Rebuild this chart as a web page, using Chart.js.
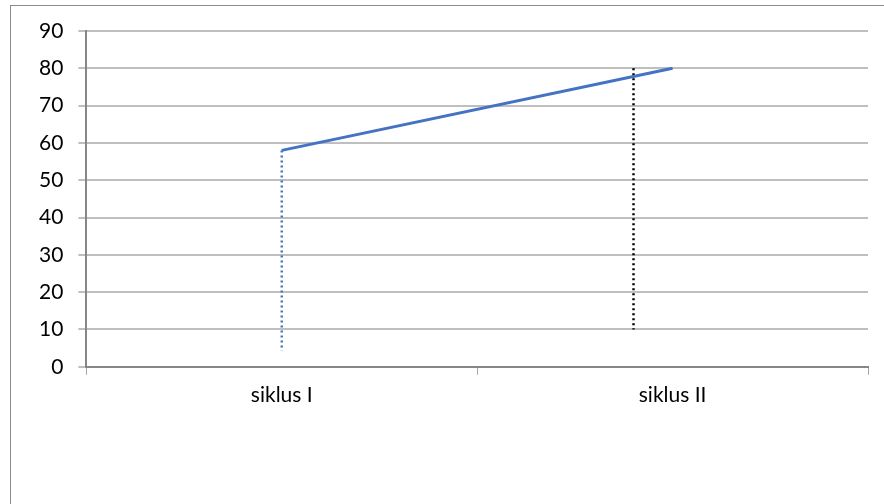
<!DOCTYPE html>
<html>
<head>
<meta charset="utf-8">
<script src="https://cdn.jsdelivr.net/npm/chart.js@4"></script>
<style>
  html, body { margin: 0; padding: 0; background: #fff; }
  #wrap { position: relative; width: 884px; height: 504px; }
  #frame { position: absolute; left: 10px; top: 5px; width: 880px; height: 510px;
           border-top: 1px solid #8c8c8c; border-left: 1px solid #8c8c8c; }
  canvas { position: absolute; left: 0; top: 0; }
</style>
</head>
<body>
<div id="wrap">
  <div id="frame"></div>
  <canvas id="lineChart" width="884" height="504"></canvas>
</div>
<script>
// data
var categories = ["siklus I", "siklus II"];
var nilai = [58, 80];
var yMin = 0, yMax = 90, yStep = 10;

// dotted drop lines (x in category index units)
var garisSiklus1 = [{x: 0, y: 58}, {x: 0, y: 4.3}];
var garisSiklus2 = [{x: 0.9, y: 80}, {x: 0.9, y: 10}];

var blue = "#4472C4";

function createChart(chartId) {
  var ctx = document.getElementById(chartId).getContext('2d');

  var myChart = new Chart(ctx, {
    type: 'line',
    data: {
      labels: categories,
      datasets: [{
        data: nilai,
        borderColor: blue,
        backgroundColor: blue,
        borderWidth: 3,
        pointRadius: 0,
        fill: false
      }, {
        data: garisSiklus1,
        xAxisID: 'xv',
        borderColor: blue,
        borderWidth: 2.5,
        borderDash: [2, 3],
        pointRadius: 0,
        fill: false
      }, {
        data: garisSiklus2,
        xAxisID: 'xv',
        borderColor: "#000",
        borderWidth: 2.5,
        borderDash: [2, 3],
        pointRadius: 0,
        fill: false
      }]
    },
    options: {
      responsive: false,
      animation: false,
      layout: { padding: { left: 24, top: 31, right: 16, bottom: 88 } },
      plugins: {
        legend: { display: false },
        tooltip: { enabled: false }
      },
      scales: {
        x: {
          type: 'category',
          offset: true,
          border: { color: "#868686", width: 2 },
          grid: { offset: true, drawOnChartArea: false, drawTicks: true, tickLength: 8, color: "#a6a6a6" },
          ticks: { color: "#000", padding: 8, font: { family: "Lato", size: 21 } }
        },
        xv: {
          type: 'linear',
          display: false,
          min: -0.5,
          max: 1.5
        },
        y: {
          min: yMin,
          max: yMax,
          border: { color: "#868686", width: 2 },
          grid: { color: "#bfbfbf", lineWidth: 2, tickLength: 8 },
          ticks: { stepSize: yStep, color: "#000", padding: 15, font: { family: "Lato", size: 21 } }
        }
      }
    }
  });
  return myChart;
}

createChart('lineChart');
</script>
</body>
</html>
